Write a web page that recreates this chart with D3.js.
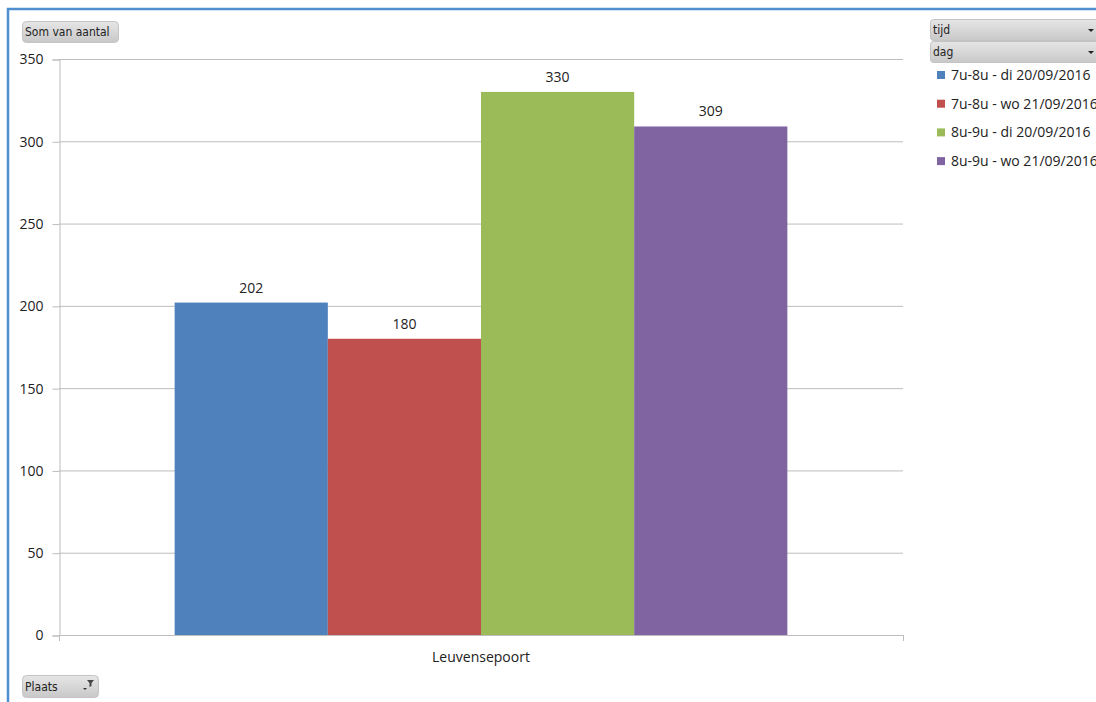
<!DOCTYPE html>
<html>
<head>
<meta charset="utf-8">
<script src="https://cdn.jsdelivr.net/npm/d3@7"></script>
<style>
body{margin:0;background:#fff;font-family:"Open Sans","Noto Sans",sans-serif;}
</style>
</head>
<body>
<div id="chart"></div>
<script>
var categories = ["Leuvensepoort"];
var seriesNames = ["7u-8u - di 20/09/2016","7u-8u - wo 21/09/2016","8u-9u - di 20/09/2016","8u-9u - wo 21/09/2016"];
var seriesValues = [202,180,330,309];
var seriesColors = ["#4f81bd","#c0504d","#9bbb59","#8064a2"];
var yTicks = [0,50,100,150,200,250,300,350];

function init(){
    var w = 1096, h = 702;
    var left = 59, right = 903, top = 59, bottom = 635;

    var svg = d3.select("#chart").append("svg")
        .attr("width",w).attr("height",h);

    var defs = svg.append("defs");
    var grad = defs.append("linearGradient").attr("id","btn").attr("x1",0).attr("y1",0).attr("x2",0).attr("y2",1);
    grad.append("stop").attr("offset","0%").attr("stop-color","#e6e6e6");
    grad.append("stop").attr("offset","100%").attr("stop-color","#c8c8c8");

    // frame border
    svg.append("rect").attr("x",8).attr("y",9).attr("width",w).attr("height",h)
        .attr("fill","none").attr("stroke","#4f8fd0").attr("stroke-width",2.5);

    var yScale = d3.scaleLinear().domain([0,350]).range([bottom,top]);
    var xScale = d3.scaleBand().domain(categories).range([left,right]);
    var inner = d3.scaleBand().domain(seriesNames)
        .range([0,xScale.bandwidth()]).paddingOuter(0.755).paddingInner(0);

    // gridlines
    svg.append("g").selectAll("line").data(yTicks.slice(1)).enter().append("line")
        .attr("x1",left).attr("x2",right)
        .attr("y1",function(d){return yScale(d)+0.5;}).attr("y2",function(d){return yScale(d)+0.5;})
        .attr("stroke","#bdbdbd").attr("stroke-width",1);

    var yAxis = d3.axisLeft(yScale).tickValues(yTicks).tickSize(7).tickPadding(9);
    var gy = svg.append("g").attr("transform","translate("+(left+0.5)+",0.5)").call(yAxis);
    gy.select(".domain").attr("stroke","#bdbdbd");
    gy.selectAll(".tick line").attr("stroke","#bdbdbd");
    gy.selectAll("text").attr("font-family","Open Sans, sans-serif").attr("font-size",14).attr("fill","#222");

    // bars
    var bars = svg.append("g").attr("transform","translate("+xScale(categories[0])+",0)");
    bars.selectAll("rect").data(seriesValues).enter().append("rect")
        .attr("x",function(d,i){return inner(seriesNames[i]);})
        .attr("y",function(d){return yScale(d);})
        .attr("width",inner.bandwidth())
        .attr("height",function(d){return yScale(0)-yScale(d);})
        .attr("fill",function(d,i){return seriesColors[i];});
    bars.selectAll("text").data(seriesValues).enter().append("text")
        .attr("x",function(d,i){return inner(seriesNames[i])+inner.bandwidth()/2;})
        .attr("y",function(d){return yScale(d)-10;})
        .attr("text-anchor","middle")
        .attr("font-size",14).attr("fill","#222")
        .text(function(d){return d;});

    // x axis
    svg.append("line").attr("x1",left).attr("x2",right+0.5)
        .attr("y1",bottom+0.5).attr("y2",bottom+0.5).attr("stroke","#bdbdbd");
    svg.selectAll(".xt").data([left,right]).enter().append("line")
        .attr("x1",function(d){return d+0.5;}).attr("x2",function(d){return d+0.5;})
        .attr("y1",bottom).attr("y2",bottom+6).attr("stroke","#bdbdbd");
    svg.append("text").attr("x",xScale(categories[0])+xScale.bandwidth()/2).attr("y",bottom+27)
        .attr("text-anchor","middle").attr("font-size",14).attr("fill","#222")
        .text(categories[0]);

    // field buttons
    function button(x,y,bw,bh,label,rx){
        var g = svg.append("g");
        g.append("rect").attr("x",x+0.5).attr("y",y+0.5).attr("width",bw).attr("height",bh)
            .attr("rx",rx).attr("fill","url(#btn)").attr("stroke","#c4c4c4");
        g.append("text").attr("x",x+3).attr("y",y+bh/2+4.5)
            .attr("font-family","DejaVu Sans Condensed, Liberation Sans Narrow, sans-serif")
            .attr("font-size",12).attr("fill","#222").text(label);
        return g;
    }
    button(22,21,96,21,"Som van aantal",4);
    var pl = button(22,675,76,22,"Plaats",4);
    pl.append("path").attr("d","M83,688 l4,0 l-2,2 z").attr("fill","#333");
    pl.append("path").attr("d","M87,680 l7,0 l-2.5,3 l0,3 l-2,1 l0,-4 z").attr("fill","#444");

    var t = button(930,19,170,21,"tijd",3);
    t.append("path").attr("d","M1088,29 l6,0 l-3,3 z").attr("fill","#222");
    var dg = button(930,41,170,21,"dag",3);
    dg.append("path").attr("d","M1088,51 l6,0 l-3,3 z").attr("fill","#222");

    // legend
    var legend = svg.append("g").selectAll("g").data(seriesNames).enter().append("g")
        .attr("transform",function(d,i){return "translate(937,"+(75+i*28.7)+")";});
    legend.append("rect").attr("x",0).attr("y",-4).attr("width",8).attr("height",8)
        .attr("fill",function(d,i){return seriesColors[i];});
    legend.append("text").attr("x",14).attr("y",5).attr("font-size",14).attr("fill","#222")
        .text(function(d){return d;});
}

window.onload = init;
</script>
</body>
</html>
